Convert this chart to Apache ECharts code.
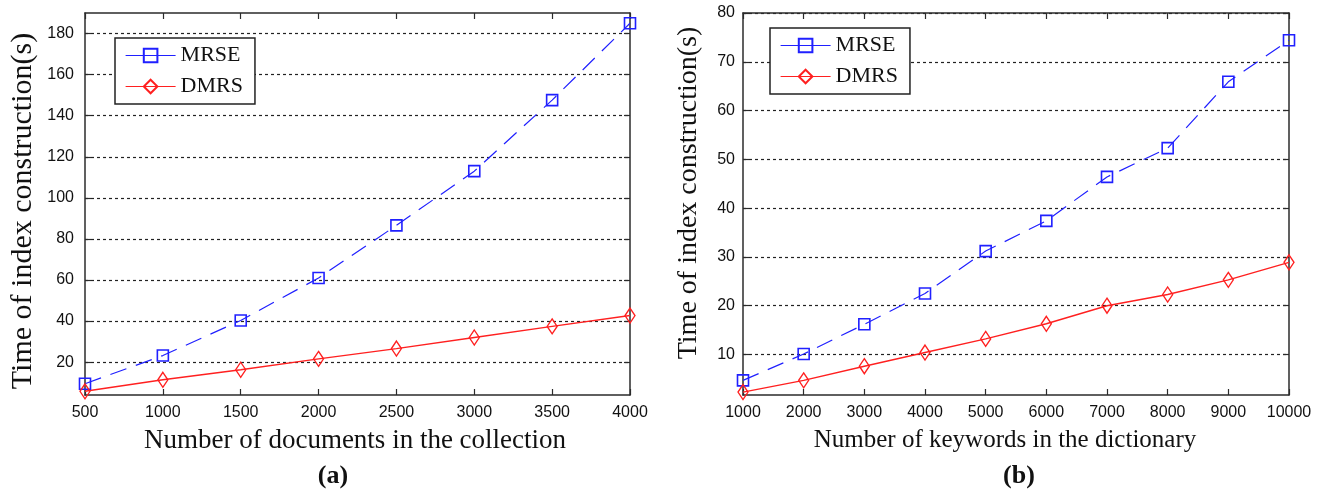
<!DOCTYPE html>
<html>
<head>
<meta charset="utf-8">
<script src="https://cdn.jsdelivr.net/npm/echarts@6/dist/echarts.min.js"></script>
<style>
html,body{margin:0;padding:0;background:#fff;}
#c{width:1320px;height:494px;}
</style>
</head>
<body>
<div id="c"></div>
<script>
// ---- data ----
const seriesNames = ['MRSE', 'DMRS'];
const xDocs = [500, 1000, 1500, 2000, 2500, 3000, 3500, 4000];
const mrseDocs = [9.5, 23.2, 40.3, 61.0, 86.6, 113.0, 147.6, 185.0];
const dmrsDocs = [5.8, 11.4, 16.3, 21.6, 26.6, 32.0, 37.4, 42.7];
const xKeywords = [1000, 2000, 3000, 4000, 5000, 6000, 7000, 8000, 9000, 10000];
const mrseKw = [4.7, 10.1, 16.2, 22.5, 31.2, 37.4, 46.4, 52.3, 65.9, 74.4];
const dmrsKw = [2.3, 4.7, 7.6, 10.4, 13.2, 16.3, 20.0, 22.3, 25.3, 28.9];
const yTicksDocs = [20, 40, 60, 80, 100, 120, 140, 160, 180];
const yTicksKw = [10, 20, 30, 40, 50, 60, 70, 80];
const xTitleDocs = 'Number of documents in the collection';
const xTitleKw = 'Number of keywords in the dictionary';
const yTitle = 'Time of index construction(s)';
const panelLabels = ['(a)', '(b)'];

const pairs = (xs, ys) => xs.map((x, i) => [x, ys[i]]);

const SERIF = '"Liberation Serif","DejaVu Serif",serif';
const SANS = '"Liberation Sans",Arial,sans-serif';
const FRAME = '#2b2b2b';
const BLUE = '#2020ff';
const RED = '#ff2020';
const plain = v => String(v);

function xAxes(gi, min, max, interval, ticks) {
  return [{
    type: 'value', gridIndex: gi, min: min, max: max, interval: interval,
    axisLine: {show: true, onZero: false, lineStyle: {color: FRAME, width: 1.5}},
    axisTick: {show: true, inside: true, length: 6, customValues: ticks, lineStyle: {color: FRAME, width: 1.2}},
    axisLabel: {show: true, margin: 10, customValues: ticks, formatter: plain, fontFamily: SANS, fontSize: 16, color: '#111'},
    splitLine: {show: false}
  }, {
    type: 'value', gridIndex: gi, position: 'top', min: min, max: max, interval: interval,
    axisLine: {show: true, onZero: false, lineStyle: {color: FRAME, width: 1.5}},
    axisTick: {show: true, inside: true, length: 6, customValues: ticks, lineStyle: {color: FRAME, width: 1.2}},
    axisLabel: {show: false},
    splitLine: {show: false}
  }];
}
function yAxes(gi, min, max, ticks, labMargin) {
  return [{
    type: 'value', gridIndex: gi, min: min, max: max,
    axisLine: {show: true, onZero: false, lineStyle: {color: FRAME, width: 1.5}},
    axisTick: {show: true, inside: true, length: 6, customValues: ticks, lineStyle: {color: FRAME, width: 1.2}},
    axisLabel: {show: true, margin: labMargin, customValues: ticks, formatter: plain, fontFamily: SANS, fontSize: 16, color: '#111'},
    splitLine: {show: true, lineStyle: {color: '#222', width: 1.2, type: [3, 3]}}
  }, {
    type: 'value', gridIndex: gi, position: 'right', min: min, max: max,
    axisLine: {show: true, onZero: false, lineStyle: {color: FRAME, width: 1.5}},
    axisTick: {show: true, inside: true, length: 6, customValues: ticks, lineStyle: {color: FRAME, width: 1.2}},
    axisLabel: {show: false},
    splitLine: {show: false}
  }];
}
function mrse(xi, yi, data) {
  return {
    name: seriesNames[0], type: 'line', xAxisIndex: xi, yAxisIndex: yi, data: data,
    symbol: 'rect', symbolSize: 11, showAllSymbol: true,
    lineStyle: {color: BLUE, width: 1.2, type: [17, 10]},
    itemStyle: {color: 'rgba(255,255,255,0)', borderColor: BLUE, borderWidth: 1.6},
    emphasis: {disabled: true}, animation: false, z: 3
  };
}
function dmrs(xi, yi, data) {
  return {
    name: seriesNames[1], type: 'line', xAxisIndex: xi, yAxisIndex: yi, data: data,
    symbol: 'diamond', symbolSize: [10, 15], showAllSymbol: true,
    lineStyle: {color: RED, width: 1.4, type: 'solid'},
    itemStyle: {color: 'rgba(255,255,255,0)', borderColor: RED, borderWidth: 1.4},
    emphasis: {disabled: true}, animation: false, z: 3
  };
}
function legend(left, top) {
  return {
    left: left, top: top, orient: 'vertical', data: seriesNames,
    backgroundColor: '#fff', borderColor: '#222', borderWidth: 1.5,
    padding: [5, 12, 5, 10], itemWidth: 50, itemHeight: 17, itemGap: 6,
    lineStyle: {type: 'solid', width: 1.2},
    textStyle: {fontFamily: SERIF, fontSize: 22, color: '#111', lineHeight: 25},
    selectedMode: false
  };
}
function title(text, x, y, size, rot) {
  return {type: 'text', x: x, y: y, rotation: rot, silent: true,
    style: {text: text, fontFamily: SERIF, fontSize: size, fill: '#111', align: 'center', verticalAlign: 'middle'}};
}
function panel(text, x, y) {
  return {type: 'text', x: x, y: y, silent: true,
    style: {text: text, fontFamily: SERIF, fontSize: 26, fontWeight: 'bold', fill: '#111', align: 'center', verticalAlign: 'middle'}};
}

const chart = echarts.init(document.getElementById('c'), null, {renderer: 'canvas'});
chart.setOption({
  backgroundColor: '#fff',
  animation: false,
  grid: [
    {left: 85, top: 13, right: 690, bottom: 99},
    {left: 743, top: 13, right: 31, bottom: 99}
  ],
  xAxis: [].concat(xAxes(0, 500, 4000, 500, xDocs), xAxes(1, 1000, 10000, 1000, xKeywords)),
  yAxis: [].concat(yAxes(0, 4, 190, yTicksDocs, 11), yAxes(1, 1.7, 80, yTicksKw, 8)),
  legend: [legend(115, 38), legend(770, 28)],
  series: [
    mrse(0, 0, pairs(xDocs, mrseDocs)),
    dmrs(0, 0, pairs(xDocs, dmrsDocs)),
    mrse(2, 2, pairs(xKeywords, mrseKw)),
    dmrs(2, 2, pairs(xKeywords, dmrsKw))
  ],
  graphic: [
    title(yTitle, 23, 211, 30, Math.PI / 2),
    title(yTitle, 689, 193, 28, Math.PI / 2),
    title(xTitleDocs, 355, 441, 27, 0),
    title(xTitleKw, 1005, 440, 25, 0),
    panel(panelLabels[0], 333, 476),
    panel(panelLabels[1], 1019, 476)
  ]
});
</script>
</body>
</html>
